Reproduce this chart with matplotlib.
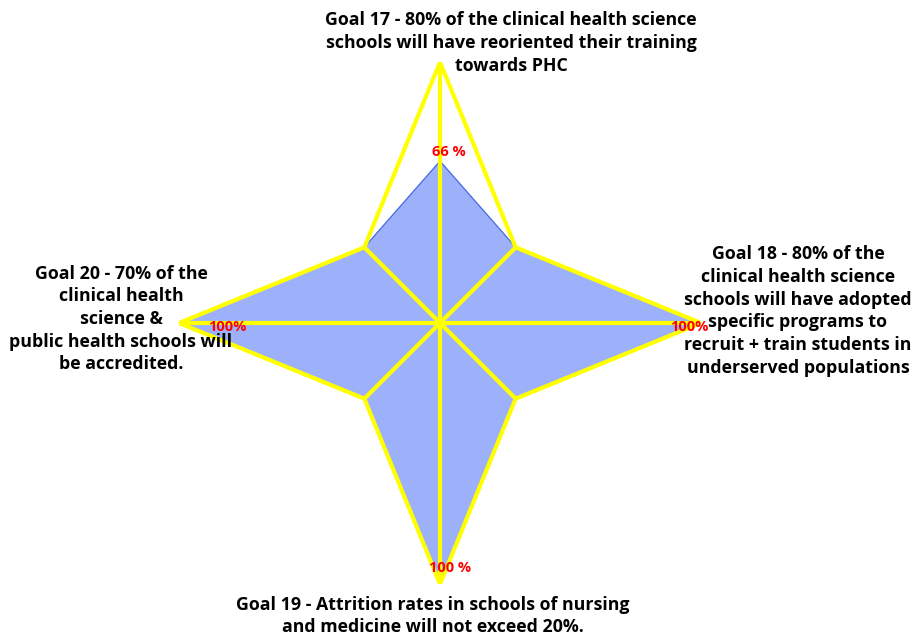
import numpy as np
import matplotlib
matplotlib.use("Agg")
import matplotlib.pyplot as plt

# axes order clockwise from top: goal 17, diag, goal 18, diag, goal 19, diag, goal 20, diag
outline_vals = [100, 41, 100, 41, 100, 41, 100, 41]   # yellow star
achieved_vals = [62, 41, 100, 41, 100, 41, 100, 41]   # blue fill
pct_labels = ["66 %", "100%", "100 %", "100%"]
goal_labels = [
    "Goal 17 - 80% of the clinical health science\nschools will have reoriented their training\ntowards PHC",
    "Goal 18 - 80% of the\nclinical health science\nschools will have adopted\nspecific programs to\nrecruit + train students in\nunderserved populations",
    "Goal 19 - Attrition rates in schools of nursing\nand medicine will not exceed 20%.",
    "Goal 20 - 70% of the\nclinical health\nscience &\npublic health schools will\nbe accredited.",
]

W, H = 917, 637
CX, CY, R = 440, 323, 261
FONT = ["Open Sans", "DejaVu Sans"]

fig = plt.figure(figsize=(W / 100, H / 100), dpi=100)
ax = fig.add_axes([(CX - R) / W, (H - CY - R) / H, 2 * R / W, 2 * R / H], projection="polar")
ax.set_theta_zero_location("N")
ax.set_theta_direction(-1)
ax.set_ylim(0, 100)
ax.axis("off")

theta = np.linspace(0, 2 * np.pi, len(outline_vals), endpoint=False)
th_closed = np.append(theta, theta[0])

ach = np.append(achieved_vals, achieved_vals[0])
ax.fill(th_closed, ach, color="#9cb1fa", zorder=1)
ax.plot(th_closed, ach, color="#4169e1", lw=0.8, zorder=2)

out = np.append(outline_vals, outline_vals[0])
ax.plot(th_closed, out, color="#ffff00", lw=3, zorder=3, solid_joinstyle="miter")
for t, v in zip(theta, outline_vals):
    ax.plot([t, t], [0, v], color="#ffff00", lw=3, zorder=3)

# value labels (pixel positions)
pct_pos = [(449, 152), (689, 327), (450, 568), (227, 327)]
for (x, y), s in zip(pct_pos, pct_labels):
    fig.text(x / W, 1 - y / H, s, color="red", fontsize=10.5, fontweight="bold",
             ha="center", va="center", family=FONT, zorder=5)

goal_pos = [(511, 43), (798, 311), (433, 616), (121, 319)]
for (x, y), s in zip(goal_pos, goal_labels):
    fig.text(x / W, 1 - y / H, s, color="black", fontsize=12.8, fontweight="bold",
             ha="center", va="center", family=FONT, linespacing=1.33, multialignment="center")

fig.savefig("out.png", dpi=100)
